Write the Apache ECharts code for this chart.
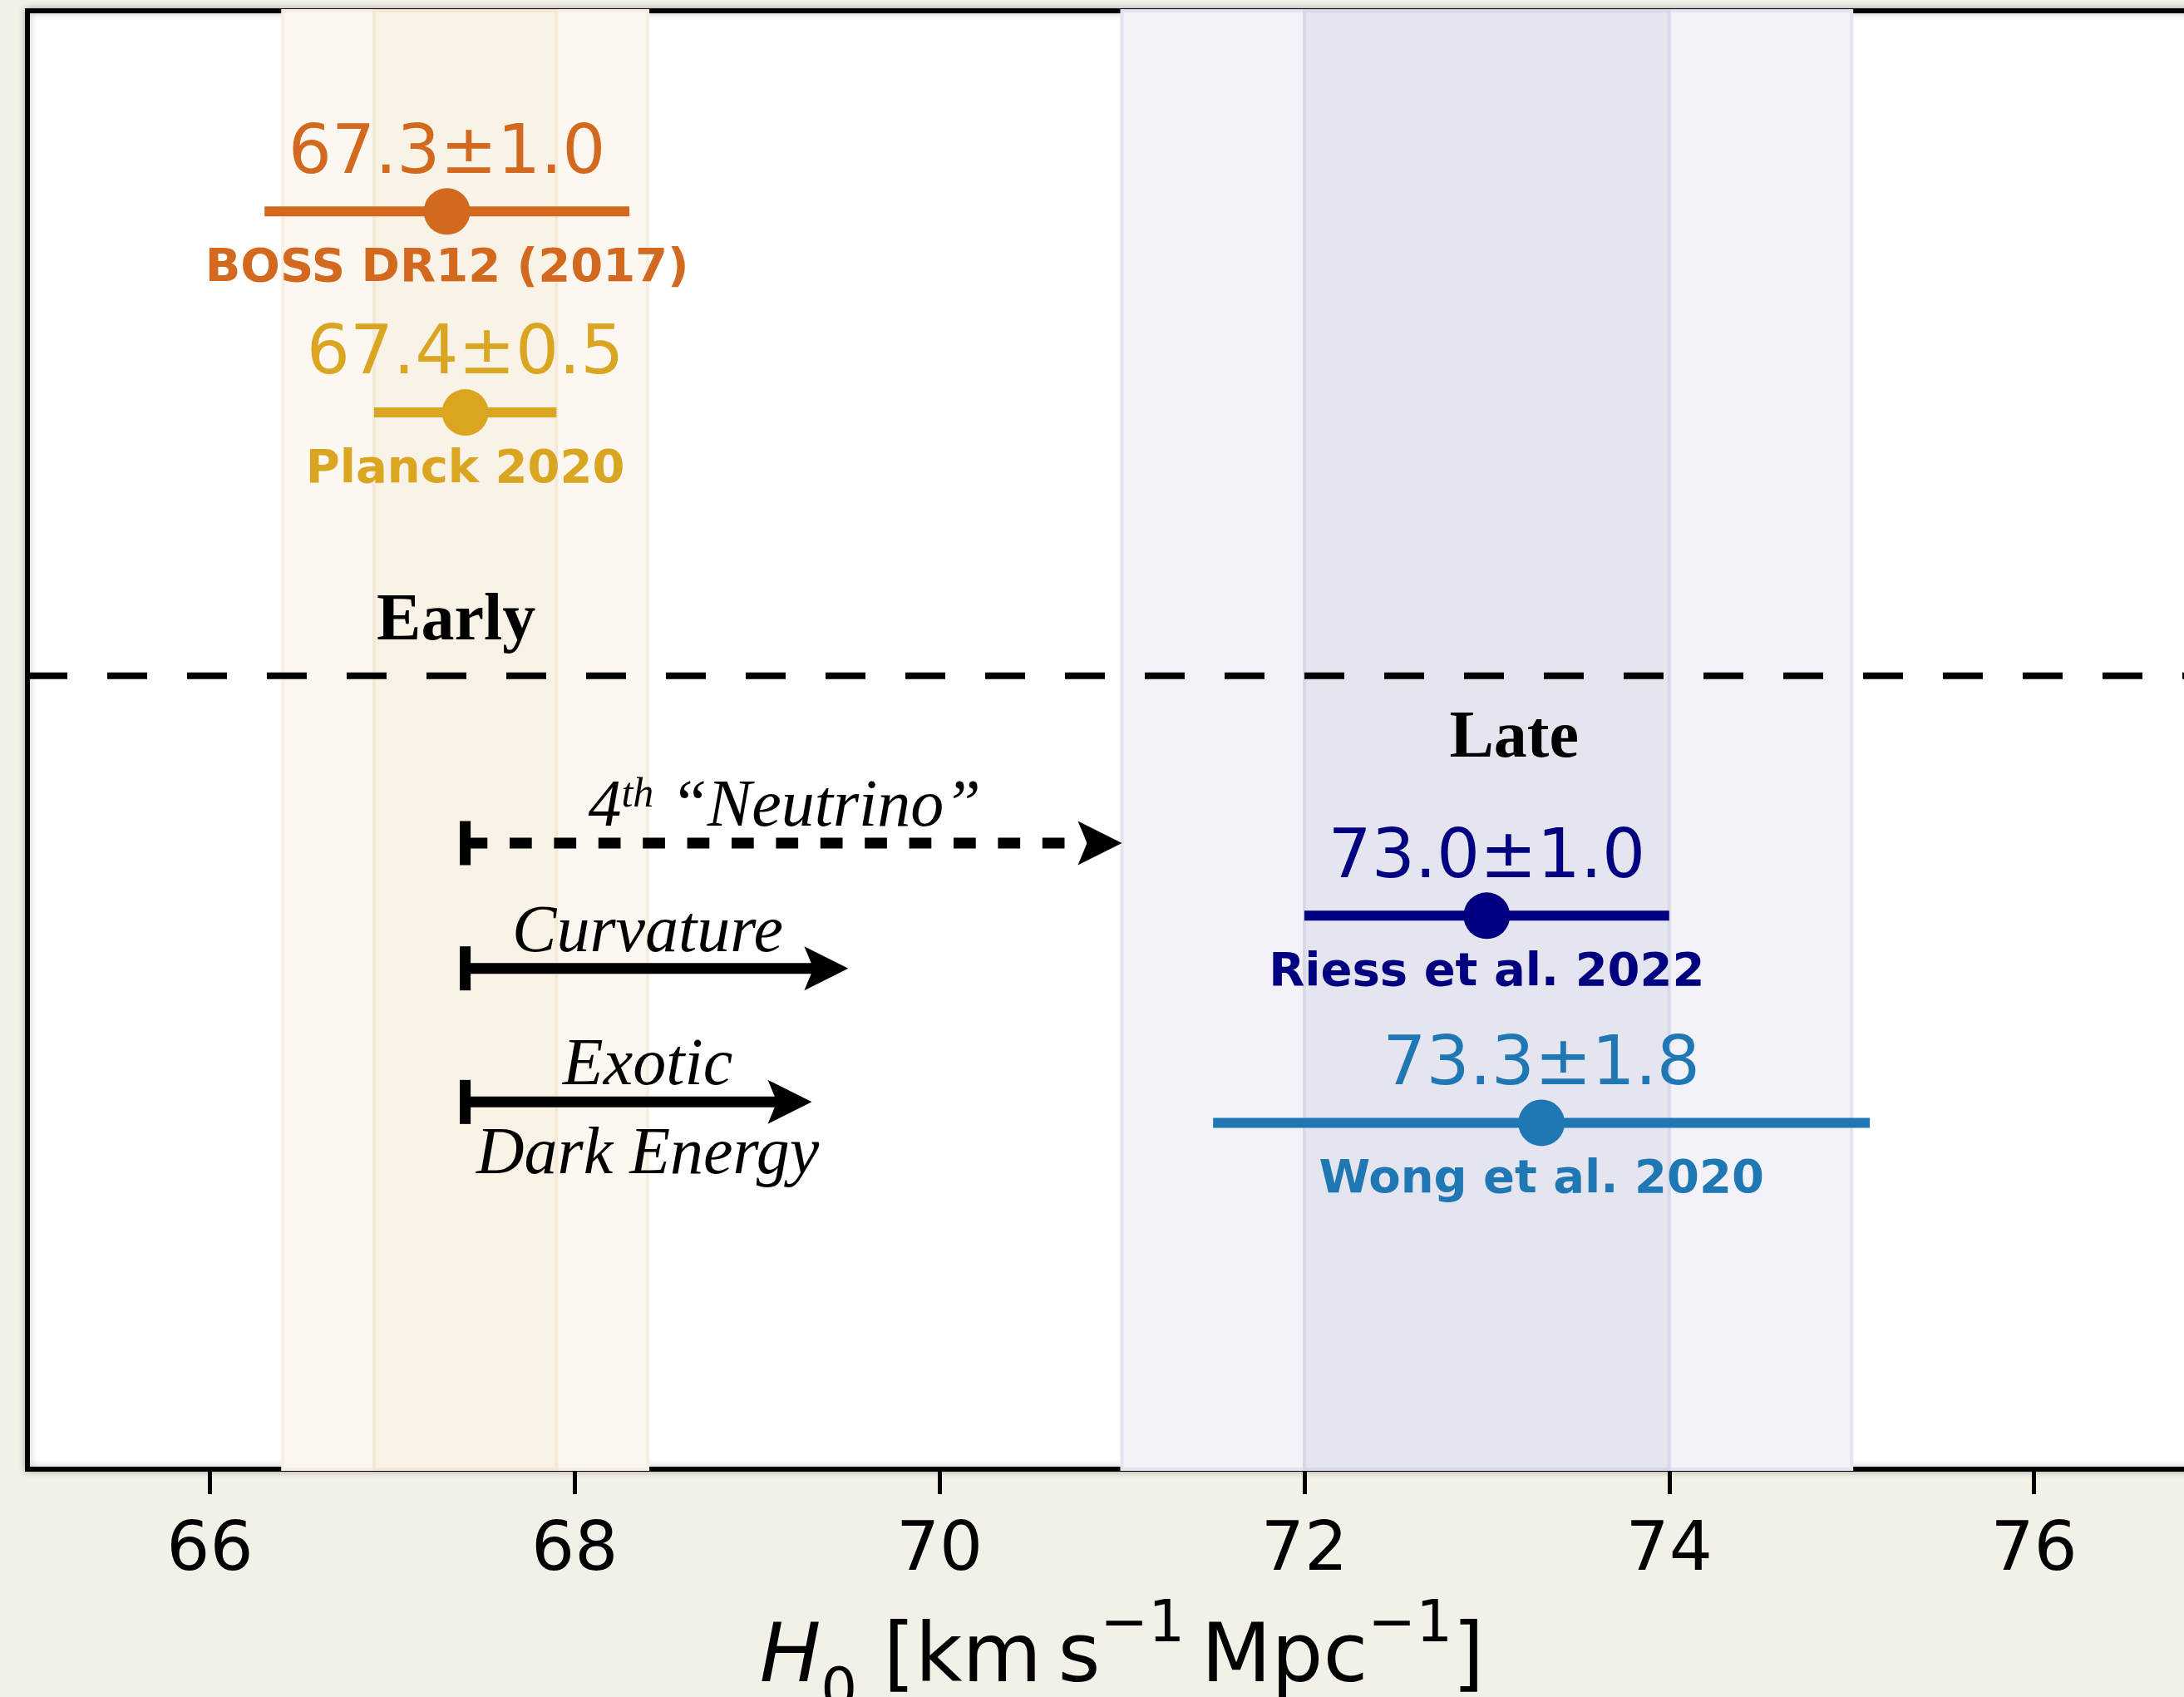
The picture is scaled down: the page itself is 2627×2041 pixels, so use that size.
<!DOCTYPE html>
<html>
<head>
<meta charset="utf-8">
<script src="https://cdn.jsdelivr.net/npm/echarts@6/dist/echarts.min.js"></script>
<style>
  html, body { margin: 0; padding: 0; background: #F3F0E8; }
  #chart { width: 2627px; height: 2041px; }
</style>
</head>
<body>
<div id="chart"></div>
<script>
// ---- H0 measurements (km s^-1 Mpc^-1) ----
const names = ['BOSS DR12 (2017)', 'Planck 2020', 'Riess et al. 2022', 'Wong et al. 2020'];
const h0 = [67.3, 67.4, 73.0, 73.3];
const h0Err = [1.0, 0.5, 1.0, 1.8];
const era = ['Early', 'Early', 'Late', 'Late'];
const eras = ['Early', 'Late'];

// shaded bands: 2σ and 1σ ranges of one reference measurement per era
const bandSource = [1, 1, 2, 2];
const bandSigma = [2, 1, 2, 1];

// proposed extensions pushing H0 up from the Planck value
const fixNames = ['{n|4}{sup|th}{n| “Neutrino”}', '{n|Curvature}', '{n|Exotic}'];
const fixNamesBelow = ['', '', 'Dark Energy'];
const fixFrom = [67.4, 67.4, 67.4];
const fixTo = [71.0, 69.5, 69.3];
const fixDashed = [true, false, false];

// x-axis tick values
const xTicks = [66, 68, 70, 72, 74, 76];

// ---- layout (vertical slots on a 0–100 frame, label offsets in px) ----
const layout = {
  measRow: [86.24, 72.46, 37.95, 23.75],
  fixRow: [42.93, 34.34, 25.18],
  fixLabelX: [69.15, 68.4, 68.4],
  dividerRow: 54.4,
  eraRow: { Early: 58.08, Late: 50.03 },
  valueOffset: -68,
  nameOffset: 69,
  fixAbove: -42,
  fixBelow: 65
};

const palette = ['#D2691E', '#DAA520', '#000080', '#1F77B4'];
// band fills/edges per era, [2σ, 1σ]
const bandFill = { Early: ['#FCF8F1', '#F9F2E6'], Late: ['#F2F2F8', '#E5E5EF'] };
const bandEdge = { Early: ['#F8EFE0', '#F5E9D6'], Late: ['#E4E4F1', '#D8D8EA'] };
const SANS = '"DejaVu Sans"';
const SERIF = '"Liberation Serif"';

const chart = echarts.init(document.getElementById('chart'), null, { renderer: 'canvas' });

function renderBand(params, api) {
  const k = api.value(2);
  const p0 = api.coord([api.value(0), 100]);
  const p1 = api.coord([api.value(1), 0]);
  const e = era[bandSource[k]];
  const level = bandSigma[k] === 2 ? 0 : 1;
  return {
    type: 'rect',
    shape: { x: p0[0], y: p0[1], width: p1[0] - p0[0], height: p1[1] - p0[1] },
    style: { fill: bandFill[e][level], stroke: bandEdge[e][level], lineWidth: 4 }
  };
}

function renderMeasurement(params, api) {
  const i = api.value(3);
  const v = api.value(0), e = api.value(1), row = api.value(2);
  const c = api.coord([v, row]);
  const lo = api.coord([v - e, row]);
  const hi = api.coord([v + e, row]);
  const col = palette[i];
  return {
    type: 'group',
    children: [
      { type: 'line', shape: { x1: lo[0], y1: c[1], x2: hi[0], y2: c[1] },
        style: { stroke: col, lineWidth: 12, lineCap: 'butt' } },
      { type: 'circle', shape: { cx: c[0], cy: c[1], r: 28 }, style: { fill: col } },
      { type: 'text', x: c[0], y: c[1] + layout.valueOffset,
        style: { text: v.toFixed(1) + '±' + e.toFixed(1), fill: col, fontFamily: SANS,
                 fontSize: 82, align: 'center', verticalAlign: 'middle' } },
      { type: 'text', x: c[0], y: c[1] + layout.nameOffset,
        style: { text: names[i], fill: col, fontFamily: SANS, fontWeight: 'bold',
                 fontSize: 56, align: 'center', verticalAlign: 'middle' } }
    ]
  };
}

function renderFix(params, api) {
  const i = api.value(3);
  const s = api.coord([api.value(0), api.value(2)]);
  const t = api.coord([api.value(1), api.value(2)]);
  const y = s[1];
  const headL = 53, headH = 26.5, notch = 11;
  const lab = api.coord([layout.fixLabelX[i], api.value(2)]);
  const children = [
    { type: 'rect', shape: { x: s[0] - 6.5, y: y - 26.5, width: 13, height: 53 }, style: { fill: '#000' } },
    { type: 'line', shape: { x1: s[0], y1: y, x2: t[0] - headL + notch + 2, y2: y },
      style: { stroke: '#000', lineWidth: 13, lineCap: 'butt', lineDash: fixDashed[i] ? [26.7, 26.7] : null } },
    { type: 'polygon',
      shape: { points: [[t[0], y], [t[0] - headL, y - headH], [t[0] - headL + notch, y], [t[0] - headL, y + headH]] },
      style: { fill: '#000' } },
    { type: 'text', x: lab[0], y: y + layout.fixAbove,
      style: {
        text: fixNames[i], fill: '#000', align: 'center', verticalAlign: 'middle',
        fontFamily: SERIF, fontStyle: 'italic', fontSize: 80, lineHeight: 80,
        rich: {
          n: { fontFamily: SERIF, fontStyle: 'italic', fontSize: 80, lineHeight: 80, fill: '#000' },
          sup: { fontFamily: SERIF, fontStyle: 'italic', fontSize: 50, lineHeight: 62, verticalAlign: 'top', fill: '#000' }
        }
      } }
  ];
  if (fixNamesBelow[i]) {
    children.push({ type: 'text', x: lab[0], y: y + layout.fixBelow,
      style: { text: fixNamesBelow[i], fill: '#000', align: 'center', verticalAlign: 'middle',
               fontFamily: SERIF, fontStyle: 'italic', fontSize: 80 } });
  }
  return { type: 'group', children: children };
}

function renderEra(params, api) {
  const p = api.coord([api.value(0), api.value(1)]);
  return {
    type: 'text', x: p[0], y: p[1],
    style: { text: eras[api.value(2)], fill: '#000', fontFamily: SERIF, fontWeight: 'bold',
             fontSize: 80, align: 'center', verticalAlign: 'middle' }
  };
}

const bandData = bandSource.map((s, k) => [h0[s] - bandSigma[k] * h0Err[s], h0[s] + bandSigma[k] * h0Err[s], k]);
const measData = h0.map((v, i) => [v, h0Err[i], layout.measRow[i], i]);
const fixData = fixFrom.map((f, i) => [f, fixTo[i], layout.fixRow[i], i]);
const eraData = eras.map((name, j) => {
  const members = h0.filter((v, i) => era[i] === name);
  const mean = members.reduce((a, b) => a + b, 0) / members.length;
  return [mean, layout.eraRow[name], j];
});

chart.setOption({
  animation: false,
  backgroundColor: 'transparent',
  grid: {
    left: 33, top: 13, right: -39, bottom: 274,
    containLabel: false, outerBoundsMode: 'none',
    show: true, backgroundColor: '#ffffff', borderColor: '#000', borderWidth: 6,
    shadowBlur: 8, shadowColor: 'rgba(0,0,0,0.25)'
  },
  xAxis: {
    type: 'value', min: 65, max: 77,
    axisLine: { show: true, onZero: false, lineStyle: { color: '#000', width: 6 } },
    axisTick: { show: true, customValues: xTicks, length: 30, lineStyle: { color: '#000', width: 5 } },
    axisLabel: { customValues: xTicks, margin: 59, color: '#000', fontFamily: SANS, fontSize: 82, lineHeight: 82 },
    splitLine: { show: false },
    name: '{it|H}{sub|0} [km\u2009s{sup|−1}\u2009Mpc{sup|−1}]',
    nameLocation: 'middle',
    nameGap: 155,
    nameTextStyle: {
      color: '#000', fontFamily: SANS, fontSize: 98, lineHeight: 150,
      rich: {
        it: { fontFamily: SANS, fontStyle: 'italic', fontSize: 98, lineHeight: 150, color: '#000' },
        sub: { fontFamily: SANS, fontSize: 69, lineHeight: 114, verticalAlign: 'bottom', color: '#000' },
        sup: { fontFamily: SANS, fontSize: 69, lineHeight: 97, verticalAlign: 'top', color: '#000' }
      }
    }
  },
  yAxis: { type: 'value', min: 0, max: 100, show: false },
  series: [
    { type: 'custom', name: 'bands', renderItem: renderBand, data: bandData, z: 1, silent: true },
    {
      type: 'line', name: 'divider', z: 2, silent: true, symbol: 'none',
      data: [[65, layout.dividerRow], [77, layout.dividerRow]],
      lineStyle: { color: '#000', width: 8, type: [48, 48], cap: 'butt' }
    },
    { type: 'custom', name: 'eras', renderItem: renderEra, data: eraData, z: 3 },
    { type: 'custom', name: 'extensions', renderItem: renderFix, data: fixData, z: 4 },
    { type: 'custom', name: 'measurements', renderItem: renderMeasurement, data: measData, z: 5 }
  ]
});
</script>
</body>
</html>
